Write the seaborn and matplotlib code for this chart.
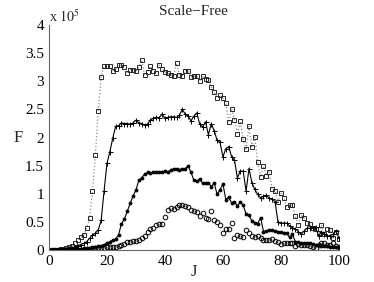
import numpy as np
import pandas as pd
import matplotlib
matplotlib.use("Agg")
import matplotlib.pyplot as plt
import seaborn as sns
from matplotlib.ticker import FuncFormatter

# J values along the x axis
J = np.arange(1, 101)

# F values, in units of 1e5
squares = [0.01, 0.01, 0.01, 0.02, 0.02, 0.03, 0.05, 0.08, 0.12, 0.18,
           0.23, 0.27, 0.39, 0.57, 1.05, 1.69, 2.48, 3.08, 3.27, 3.27,
           3.27, 3.19, 3.22, 3.29, 3.29, 3.25, 3.14, 3.21, 3.21, 3.18,
           3.25, 3.38, 3.11, 3.16, 3.27, 3.19, 3.14, 3.29, 3.22, 3.17,
           3.14, 3.12, 3.10, 3.32, 3.12, 3.10, 3.19, 3.19, 3.07, 3.09,
           3.10, 3.00, 3.10, 3.05, 3.02, 2.90, 2.81, 2.71, 2.75, 2.70,
           2.62, 2.27, 2.51, 2.32, 2.06, 2.29, 1.97, 1.80, 2.20, 1.84,
           2.01, 1.56, 1.30, 1.49, 1.32, 1.39, 1.08, 1.05, 0.85, 1.01,
           0.92, 0.77, 0.80, 0.80, 0.60, 0.44, 0.62, 0.57, 0.49, 0.46,
           0.40, 0.37, 0.30, 0.44, 0.28, 0.37, 0.36, 0.22, 0.33, 0.20]

plus = [0.00, 0.00, 0.00, 0.01, 0.01, 0.02, 0.03, 0.04, 0.06, 0.08,
        0.10, 0.12, 0.15, 0.21, 0.27, 0.30, 0.36, 0.53, 1.05, 1.54,
        1.75, 1.99, 2.20, 2.21, 2.26, 2.25, 2.25, 2.24, 2.26, 2.31,
        2.26, 2.25, 2.22, 2.24, 2.32, 2.34, 2.36, 2.35, 2.42, 2.34,
        2.36, 2.37, 2.37, 2.36, 2.40, 2.50, 2.42, 2.38, 2.30, 2.38,
        2.44, 2.24, 2.19, 2.28, 2.05, 2.25, 2.12, 1.95, 1.92, 1.66,
        1.80, 1.84, 1.66, 1.60, 1.28, 1.41, 1.40, 1.05, 1.45, 1.20,
        1.08, 0.99, 0.93, 0.96, 0.98, 0.92, 0.91, 0.86, 0.50, 0.48,
        0.48, 0.48, 0.43, 0.40, 0.38, 0.33, 0.28, 0.34, 0.39, 0.39,
        0.40, 0.41, 0.25, 0.33, 0.28, 0.25, 0.26, 0.28, 0.34, 0.22]

dots = [0.00, 0.00, 0.00, 0.00, 0.00, 0.01, 0.01, 0.01, 0.02, 0.02,
        0.02, 0.03, 0.03, 0.04, 0.05, 0.05, 0.07, 0.08, 0.10, 0.12,
        0.15, 0.18, 0.20, 0.27, 0.47, 0.55, 0.69, 0.83, 0.96, 1.07,
        1.24, 1.29, 1.35, 1.38, 1.37, 1.38, 1.39, 1.39, 1.39, 1.41,
        1.39, 1.42, 1.45, 1.45, 1.43, 1.45, 1.45, 1.50, 1.38, 1.24,
        1.23, 1.26, 1.19, 1.19, 1.20, 1.13, 1.19, 0.99, 1.07, 1.18,
        0.90, 0.94, 0.84, 0.86, 0.78, 0.86, 0.80, 0.64, 0.62, 0.52,
        0.49, 0.47, 0.58, 0.33, 0.34, 0.36, 0.35, 0.34, 0.33, 0.32,
        0.31, 0.30, 0.23, 0.28, 0.15, 0.15, 0.13, 0.13, 0.12, 0.12,
        0.11, 0.10, 0.10, 0.08, 0.07, 0.07, 0.06, 0.06, 0.05, 0.05]

circles = [0.00, 0.00, 0.00, 0.00, 0.00, 0.01, 0.01, 0.01, 0.01, 0.01,
           0.01, 0.01, 0.02, 0.02, 0.02, 0.03, 0.03, 0.04, 0.04, 0.05,
           0.05, 0.06, 0.06, 0.07, 0.09, 0.11, 0.14, 0.15, 0.16, 0.17,
           0.18, 0.22, 0.26, 0.32, 0.37, 0.40, 0.44, 0.46, 0.46, 0.59,
           0.72, 0.75, 0.73, 0.77, 0.81, 0.81, 0.79, 0.76, 0.72, 0.69,
           0.67, 0.60, 0.66, 0.58, 0.55, 0.69, 0.54, 0.50, 0.44, 0.30,
           0.38, 0.38, 0.48, 0.21, 0.27, 0.26, 0.23, 0.35, 0.30, 0.25,
           0.23, 0.26, 0.21, 0.18, 0.18, 0.18, 0.20, 0.16, 0.15, 0.11,
           0.12, 0.13, 0.12, 0.12, 0.08, 0.11, 0.10, 0.10, 0.09, 0.08,
           0.06, 0.04, 0.10, 0.12, 0.13, 0.10, 0.09, 0.13, 0.08, 0.06]

x_ticks = [0, 20, 40, 60, 80, 100]
y_ticks = [0, 0.5, 1, 1.5, 2, 2.5, 3, 3.5, 4]

sns.set_style("white")
plt.rcParams['font.family'] = ['Liberation Serif', 'DejaVu Serif']
plt.rcParams['mathtext.fontset'] = 'stix'

fig = plt.figure(figsize=(3.74, 2.82), dpi=100)
ax = fig.add_axes([0.131, 0.113, 0.775, 0.798])

sns.lineplot(x=J, y=squares, ax=ax, color='0.55', linestyle=':', linewidth=0.9,
             marker='s', markersize=3.2, markerfacecolor='none',
             markeredgecolor='0.15', markeredgewidth=0.7)
sns.lineplot(x=J, y=plus, ax=ax, color='black', linewidth=0.8,
             marker='+', markersize=3.6, markeredgecolor='black', markeredgewidth=0.7)
sns.lineplot(x=J, y=dots, ax=ax, color='black', linewidth=0.8,
             marker='o', markersize=2.0, markerfacecolor='black', markeredgecolor='black')
sns.lineplot(x=J, y=circles, ax=ax, color='black', linestyle='none',
             marker='o', markersize=3.3, markerfacecolor='none',
             markeredgecolor='black', markeredgewidth=0.7)

ax.set_xlim(0, 100)
ax.set_ylim(0, 4)
ax.set_xticks(x_ticks)
ax.set_yticks(y_ticks)
ax.yaxis.set_major_formatter(FuncFormatter(lambda v, p: '%g' % v))
ax.tick_params(direction='in', length=3, width=0.6, colors='0.35',
               labelcolor='black', labelsize=11)
sns.despine(ax=ax)
for side in ['left', 'bottom']:
    ax.spines[side].set_color('0.4')
    ax.spines[side].set_linewidth(0.8)

ax.text(0.0, 1.0, r'x $10^{5}$', transform=ax.transAxes, fontsize=10,
        ha='left', va='bottom')
ax.set_title('Scale\u2212Free', fontsize=11, pad=7)
ax.set_xlabel('J', fontsize=12, labelpad=-3)
ax.set_ylabel('F', fontsize=12, labelpad=5, rotation=0, va='center')

fig.savefig('out.png', dpi=100)
